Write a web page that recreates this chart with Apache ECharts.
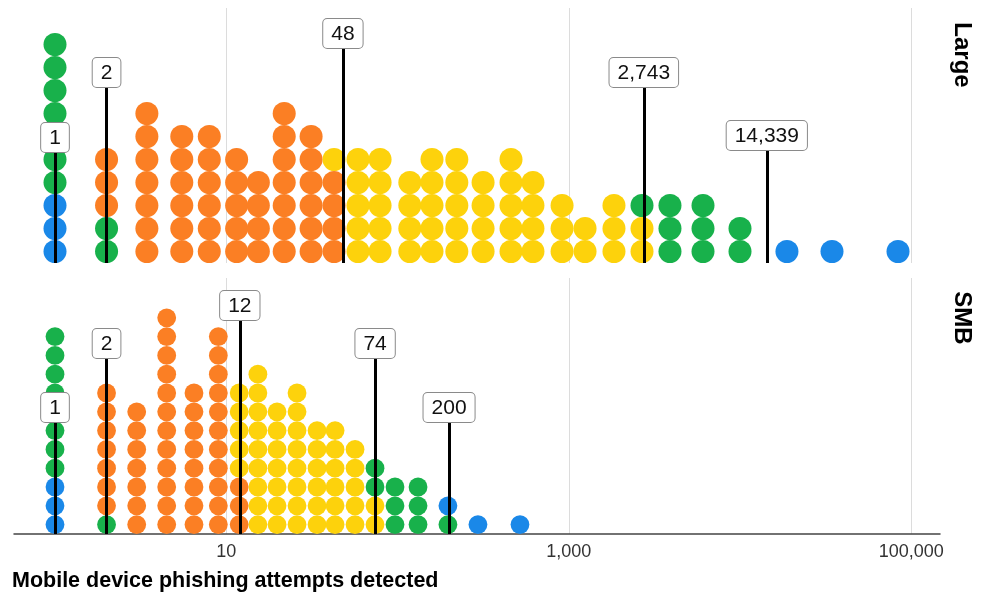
<!DOCTYPE html>
<html><head><meta charset="utf-8">
<script src="https://cdn.jsdelivr.net/npm/echarts@6/dist/echarts.min.js"></script>
<style>html,body{margin:0;padding:0;background:#fff}#c{width:991px;height:594px}</style>
</head><body><div id="c"></div>
<script>
// ---------------- DATA ----------------
// Large organisations: bin values (attempts detected) and dot counts per colour band
const largeValues    = [1, 2, 3.44, 5.5, 7.96, 11.5, 15.4, 21.8, 31.3, 42.6, 58.8, 79.1, 118, 159, 222, 316, 460, 618, 914, 1245, 1837, 2678, 3900, 6081, 10000, 18800, 34450, 83700];
const largeLowBlue   = [3,0,0,0,0,0,0,0,0,0, 0,0,0,0,0,0,0,0,0,0, 0,0,0,0,0,0,0,0];
const largeLowGreen  = [7,2,0,0,0,0,0,0,0,0, 0,0,0,0,0,0,0,0,0,0, 0,0,0,0,0,0,0,0];
const largeOrange    = [0,3,7,6,6,5,4,7,6,4, 0,0,0,0,0,0,0,0,0,0, 0,0,0,0,0,0,0,0];
const largeYellow    = [0,0,0,0,0,0,0,0,0,1, 5,5,4,5,5,4,5,4,3,2, 3,2,0,0,0,0,0,0];
const largeHighGreen = [0,0,0,0,0,0,0,0,0,0, 0,0,0,0,0,0,0,0,0,0, 0,1,3,3,2,0,0,0];
const largeHighBlue  = [0,0,0,0,0,0,0,0,0,0, 0,0,0,0,0,0,0,0,0,0, 0,0,0,0,0,1,1,1];
const largeRefValues = [1, 2, 48, 2743, 14339];

// SMB organisations
const smbValues    = [1, 2, 3.0, 4.49, 6.48, 8.99, 11.9, 15.3, 19.8, 25.9, 33.9, 43.2, 56.5, 73.9, 96.7, 131.8, 197, 295, 519];
const smbLowBlue   = [3,0,0,0,0,0,0,0,0,0, 0,0,0,0,0,0,0,0,0];
const smbLowGreen  = [8,1,0,0,0,0,0,0,0,0, 0,0,0,0,0,0,0,0,0];
const smbOrange    = [0,7,7,12,8,11,3,0,0,0, 0,0,0,0,0,0,0,0,0];
const smbYellow    = [0,0,0,0,0,0,5,9,7,8, 6,6,5,2,0,0,0,0,0];
const smbHighGreen = [0,0,0,0,0,0,0,0,0,0, 0,0,0,2,3,3,1,0,0];
const smbHighBlue  = [0,0,0,0,0,0,0,0,0,0, 0,0,0,0,0,0,1,1,1];
const smbRefValues = [1, 2, 12, 74, 200];

const panelNames = ['Large', 'SMB'];
const tickValues = [10, 1000, 100000];
const axisTitle = 'Mobile device phishing attempts detected';

// ---------------- LAYOUT / STYLE ----------------
const COLORS = {blue: '#1a88e8', green: '#18b14b', orange: '#fb7f24', yellow: '#fdd20c'};
const GRID_LEFT = 14, GRID_RIGHT_PX = 940;
const PX_PER_DECADE = 171.25, X_OF_ONE = 55;
const XMIN = (GRID_LEFT - X_OF_ONE) / PX_PER_DECADE;
const XMAX = (GRID_RIGHT_PX - X_OF_ONE) / PX_PER_DECADE;
const panels = [
  {top: 8, height: 255, dot: 23, labelPx: [111, 176, 215, 176, 113]},
  {top: 278, height: 256, dot: 18.8, labelPx: [112, 176, 214, 176, 112]}
];

const fmt = v => Math.round(v).toLocaleString('en-US');
const lg = v => Math.log10(v);

function buildDots(values, bands) {
  // bands: [[counts, colourKey], ...] in bottom-to-top order
  const out = {blue: [], green: [], orange: [], yellow: []};
  values.forEach((v, i) => {
    let level = 0;
    bands.forEach(([counts, key]) => {
      for (let k = 0; k < counts[i]; k++) {
        out[key].push([lg(v), level + 0.5]);
        level++;
      }
    });
  });
  return out;
}

const dotsByPanel = [
  buildDots(largeValues, [[largeLowBlue,'blue'],[largeLowGreen,'green'],[largeOrange,'orange'],[largeYellow,'yellow'],[largeHighGreen,'green'],[largeHighBlue,'blue']]),
  buildDots(smbValues, [[smbLowBlue,'blue'],[smbLowGreen,'green'],[smbOrange,'orange'],[smbYellow,'yellow'],[smbHighGreen,'green'],[smbHighBlue,'blue']])
];
const refsByPanel = [largeRefValues, smbRefValues];

const grids = [], xAxes = [], yAxes = [], series = [];
panels.forEach((p, pi) => {
  grids.push({left: GRID_LEFT, right: 991 - GRID_RIGHT_PX, top: p.top, height: p.height});
  const isBottom = pi === panels.length - 1;
  xAxes.push({
    type: 'value', gridIndex: pi, min: XMIN, max: XMAX,
    axisLine: {show: isBottom, onZero: false, lineStyle: {color: '#444', width: 1.5}},
    axisTick: {show: false, customValues: tickValues.map(lg)},
    axisLabel: {show: isBottom, customValues: tickValues.map(lg), formatter: v => fmt(Math.pow(10, v)),
      fontSize: 18, color: '#333', margin: 9, fontFamily: 'Liberation Sans'},
    splitLine: {show: true, lineStyle: {color: '#dcdcdc', width: 1}}
  });
  yAxes.push({type: 'value', gridIndex: pi, min: 0, max: p.height / p.dot, show: false});
  ['blue', 'green', 'orange', 'yellow'].forEach(key => {
    series.push({
      type: 'scatter', xAxisIndex: pi, yAxisIndex: pi, symbol: 'circle', symbolSize: p.dot,
      itemStyle: {color: COLORS[key], opacity: 1}, data: dotsByPanel[pi][key], silent: true, z: 2
    });
  });
  series.push({
    type: 'scatter', xAxisIndex: pi, yAxisIndex: pi, data: [], z: 10,
    markLine: {
      silent: true, animation: false, symbol: ['none', 'none'], precision: 6,
      lineStyle: {color: '#000', width: 3, type: 'solid'},
      label: {show: true, position: 'end', distance: 0, formatter: '{b}',
        fontSize: 21, color: '#111', fontFamily: 'Liberation Sans',
        backgroundColor: '#fff', borderColor: '#8a8a8a', borderWidth: 1, borderRadius: 4,
        padding: [5, 8, 3, 8]},
      emphasis: {disabled: true},
      data: refsByPanel[pi].map((v, i) => [
        {coord: [lg(v), 0], name: fmt(v)},
        {coord: [lg(v), p.labelPx[i] / p.dot]}
      ])
    }
  });
});

const graphics = panelNames.map((name, i) => ({
  type: 'text', x: 962, y: i === 0 ? 55 : 318, rotation: -Math.PI / 2,
  style: {text: name, font: 'bold 24px "Liberation Sans"', fill: '#000', align: 'center', verticalAlign: 'middle'}
}));

const chart = echarts.init(document.getElementById('c'), null, {renderer: 'canvas'});
chart.setOption({
  animation: false,
  backgroundColor: '#fff',
  title: {text: axisTitle, left: 12, top: 570, padding: 0,
    textStyle: {fontSize: 21.5, fontWeight: 'bold', color: '#000', fontFamily: 'Liberation Sans'}},
  grid: grids, xAxis: xAxes, yAxis: yAxes, series: series, graphic: graphics
});
</script></body></html>
